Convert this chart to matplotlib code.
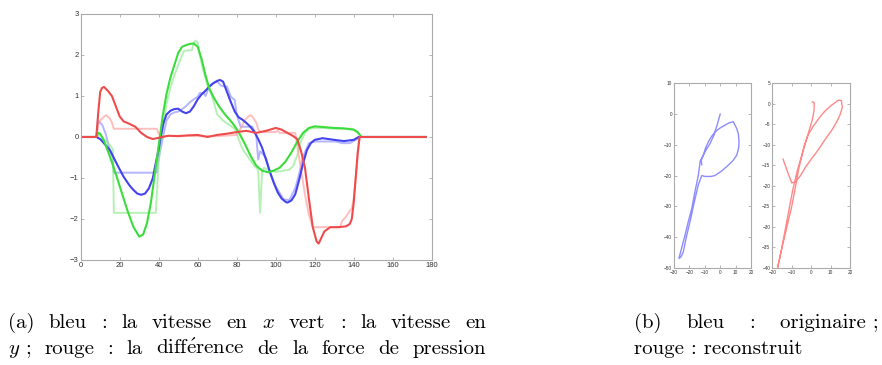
import matplotlib.pyplot as plt

# ---- main panel: speeds (thick) and their reconstructions (light)
vx_t = [0, 8, 10, 15, 19, 22, 25, 27, 29, 31, 33, 35, 37, 38, 40, 41, 42.5, 44, 46, 48, 50, 52, 54, 56, 58, 60,
        62, 64, 66, 68, 70, 71.5, 73, 75, 77, 79, 81, 83, 85, 87, 89, 91, 93, 95, 97, 99, 101, 103, 105,
        106, 108, 110, 112, 114, 116, 118, 120, 124, 130, 135, 140, 142.5, 177]
vx = [0, 0, -0.05, -0.32, -0.7, -0.97, -1.18, -1.29, -1.38, -1.41, -1.38, -1.25, -1.0, -0.75, -0.3, 0.0,
      0.35, 0.55, 0.64, 0.68, 0.69, 0.62, 0.58, 0.62, 0.75, 0.92, 1.04, 1.13, 1.23, 1.31, 1.37, 1.39, 1.35,
      1.1, 0.85, 0.62, 0.48, 0.42, 0.34, 0.25, 0.13, -0.05, -0.26, -0.55, -0.85, -1.12, -1.35, -1.5, -1.58,
      -1.6, -1.55, -1.4, -1.05, -0.65, -0.32, -0.15, -0.07, -0.03, -0.07, -0.1, -0.07, 0.0, 0.0]

vx_r_t = [0, 8, 9, 11, 13, 15, 16.5, 17, 39, 40, 42, 44, 46, 48, 50, 52, 54, 56, 58, 60, 61, 63, 64, 66, 68,
          70, 72, 74, 75, 77, 79, 80, 82, 84, 88, 90, 91, 92, 93, 95, 97, 100, 104, 107, 110, 112, 114, 117,
          120, 125, 131, 134, 138, 141, 143.5, 177]
vx_r = [0, 0, 0.4, 0.3, 0.05, -0.35, -0.5, -0.87, -0.87, -0.5, -0.05, 0.4, 0.55, 0.6, 0.62, 0.68, 0.75,
        0.85, 0.92, 0.98, 1.07, 1.07, 1.0, 1.25, 1.32, 1.35, 1.25, 1.23, 1.23, 0.98, 0.9, 0.55, 0.25, 0.25,
        0.25, 0.05, -0.55, -0.35, -0.4, -0.5, -0.85, -1.2, -1.52, -1.54, -1.25, -0.9, -0.48, -0.15, -0.11,
        -0.11, -0.11, -0.15, -0.15, -0.07, 0.0, 0.0]

vy_t = [0, 8, 9, 10, 12, 15, 18, 21, 24, 27, 30, 32, 34, 36, 38, 40, 42, 44, 46, 48, 50, 52, 54, 56, 58, 60,
        62, 64, 66, 68, 71, 74, 78, 81, 84, 87, 90, 93, 96, 99, 102, 105, 108, 111, 114, 117, 120, 125,
        130, 135, 140, 142, 144, 177]
vy = [0, 0, 0.1, 0.08, -0.1, -0.48, -0.9, -1.35, -1.8, -2.19, -2.43, -2.38, -2.1, -1.6, -0.9, -0.2, 0.5,
      1.05, 1.45, 1.75, 2.05, 2.2, 2.24, 2.27, 2.28, 2.2, 1.9, 1.5, 1.18, 0.98, 0.74, 0.55, 0.33, 0.12,
      -0.15, -0.45, -0.7, -0.82, -0.86, -0.82, -0.75, -0.6, -0.38, -0.12, 0.1, 0.22, 0.26, 0.24, 0.22,
      0.21, 0.18, 0.12, 0.0, 0.0]

vy_r_t = [0, 8, 10, 12, 15, 16.5, 17, 38.5, 40, 42, 44, 46, 48, 50, 52, 53, 57, 58, 59, 60, 61, 63, 65,
          67, 70, 73, 76, 79, 81, 83, 86, 89, 91, 92, 93, 94, 96, 100, 104, 107, 109, 111, 113, 115, 117,
          120, 125, 130, 135, 140, 142, 144, 177]
vy_r = [0, 0, 0.05, -0.05, -0.2, -0.3, -1.85, -1.85, -0.6, 0.2, 0.8, 1.2, 1.5, 1.75, 2.0, 2.1, 2.12, 2.3,
        2.35, 2.3, 2.0, 1.6, 1.25, 1.05, 0.55, 0.4, 0.3, 0.2, -0.05, -0.3, -0.5, -0.7, -0.8, -1.85, -0.85,
        -0.75, -0.8, -0.85, -0.82, -0.8, -0.7, -0.45, -0.1, 0.1, 0.2, 0.22, 0.22, 0.2, 0.2, 0.18, 0.1,
        0.0, 0.0]

dp_t = [0, 8, 9, 10, 11, 12, 14, 16, 18, 20, 22, 25, 28, 31, 34, 37, 40, 45, 50, 55, 60, 65, 70, 75, 80,
        85, 90, 95, 100, 103, 106, 109, 111, 113, 115, 117, 119, 121, 122, 123, 125, 128, 132, 136, 138,
        139, 140, 141, 142, 143, 177]
dp = [0, 0, 0.6, 1.1, 1.2, 1.22, 1.12, 1.0, 0.75, 0.5, 0.38, 0.32, 0.25, 0.1, 0.0, -0.05, -0.02, 0.03,
      0.02, 0.04, 0.05, 0.0, 0.05, 0.08, 0.12, 0.15, 0.1, 0.15, 0.22, 0.18, 0.1, 0.02, -0.05, -0.35, -0.75,
      -1.5, -2.2, -2.55, -2.6, -2.5, -2.3, -2.2, -2.2, -2.18, -2.12, -2.0, -1.6, -1.0, -0.4, 0.0, 0.0]

dp_r_t = [0, 8, 9, 10, 12, 13, 15, 16, 17, 39, 40, 41, 50, 60, 70, 80, 82, 84, 86, 87, 88, 90, 91, 92,
          100, 101, 102, 110, 111, 113, 115, 117, 119, 133, 134, 136, 138, 139, 140, 141, 142, 143, 177]
dp_r = [0, 0, 0.3, 0.4, 0.5, 0.53, 0.45, 0.35, 0.2, 0.2, 0.08, 0.02, 0.03, 0.02, 0.02, 0.05, 0.2, 0.4,
        0.5, 0.53, 0.5, 0.35, 0.2, 0.12, 0.12, 0.15, 0.1, 0.1, -0.2, -0.8, -1.4, -1.9, -2.2, -2.2, -2.05,
        -1.95, -1.8, -1.75, -1.5, -1.0, -0.5, 0.0, 0.0]

# ---- trajectory panels
orig_x = [0, -2, -4, -6.6, -9, -11, -13, -14.2, -16.5, -18.5, -21, -22.9, -25, -26.8, -25.5, -24, -22,
          -19.6, -17, -14.2, -12, -10, -6, -3.4, 1, 5.3, 8.5, 10.7, 12, 12.2, 11.8, 10.7, 8.5, 6, 3.1, 0,
          -3.4, -5.5, -7.7, -9.5, -11, -12.3, -12]
orig_y = [0, -3.5, -6.8, -9.6, -11.5, -13.4, -15.3, -19.9, -25.5, -30.8, -35.5, -39.5, -43.5, -47, -46.5,
          -44.9, -40, -35, -29, -23, -20, -20.3, -20.3, -20, -18.5, -16.6, -15, -13.4, -11, -9, -6.5, -4.7,
          -2.5, -2.8, -3.6, -4.5, -5.8, -7.2, -9, -11, -13.4, -15, -16.5]

rec_x = [-14.5, -13, -11.5, -10, -8, -5.5, -3, 0, 3.5, 7, 10.5, 13, 15, 16, 15.5, 14, 10, 7, 4, 1, -1.5,
         -3.5, -5, -6.5, -8, -10, -12.5, -15, -17.3, -15.5, -13.5, -11.5, -9.5, -7, -4.5, -2, 0.5, 1.5,
         1.5, 0.5]
rec_y = [-13.5, -15.5, -17.5, -19.3, -19, -17.5, -15.5, -13.5, -11.3, -8.8, -6.5, -4.5, -2.5, -0.8, 0.8,
         0.9, -0.5, -1.8, -3.5, -5.5, -7.5, -10, -13, -16, -20, -25, -30, -35, -40, -36, -31, -26, -21,
         -16, -12, -8, -4, -1.5, 0.3, 0.5]

cap_a1 = ["(a)", "bleu", ":", "la", "vitesse", "en", "$x$", "vert", ":", "la", "vitesse", "en"]
cap_a2 = ["$y$ ;", "rouge", ":", "la", r"$\mathrm{diff\acute{e}rence}$", "de", "la", "force", "de",
          "pression"]
cap_b1 = ["(b)", "bleu", ":", "originaire ;"]
cap_b2 = "rouge : reconstruit"

W, H = 882, 365
CAP_SIZE = 15


def style(ax, size):
    ax.tick_params(direction='in', top=True, right=True, length=2, width=0.5,
                   color='#999999', labelsize=size, labelcolor='#333333', pad=1.5)
    for lab in ax.get_xticklabels() + ax.get_yticklabels():
        lab.set_family('Liberation Sans')
    for s in ax.spines.values():
        s.set_color('#aaaaaa')
        s.set_linewidth(0.8)


def justified(fig, words, x0, x1, y, size):
    renderer = fig.canvas.get_renderer()
    texts = [fig.text(0, 1 - y / H, w, family='cmr10', fontsize=size, va='baseline') for w in words]
    widths = [t.get_window_extent(renderer).width for t in texts]
    gap = (x1 - x0 - sum(widths)) / (len(words) - 1)
    x = x0
    for t, w in zip(texts, widths):
        t.set_x(x / W)
        x += w + gap


plt.rcParams['mathtext.fontset'] = 'cm'
plt.rcParams['axes.formatter.use_mathtext'] = False
fig = plt.figure(figsize=(W / 100, H / 100), dpi=100)

ax = fig.add_axes([0.0915, 0.2877, 0.3980, 0.6740])
ax.plot(vx_r_t, vx_r, color='#8c8cff', lw=1.4, alpha=0.65)
ax.plot(vy_r_t, vy_r, color='#8ee88e', lw=1.4, alpha=0.65)
ax.plot(dp_r_t, dp_r, color='#ff9c9c', lw=1.4, alpha=0.65)
ax.plot(vx_t, vx, color='#4444ee', lw=1.5)
ax.plot(vy_t, vy, color='#3cdc3c', lw=1.5)
ax.plot(dp_t, dp, color='#ee4c4c', lw=1.5)
ax.set_xlim(0, 180)
ax.set_ylim(-3, 3)
ax.set_xticks(range(0, 181, 20))
ax.set_yticks(range(-3, 4))
style(ax, 5.5)

ax_o = fig.add_axes([0.7642, 0.2666, 0.0873, 0.5050])
ax_o.plot(orig_x, orig_y, color='#7070ff', lw=1.0, alpha=0.8)
ax_o.set_xlim(-30, 20)
ax_o.set_ylim(-50, 10)
ax_o.set_xticks(range(-30, 21, 10))
ax_o.set_yticks(range(-50, 11, 10))
style(ax_o, 3.4)

ax_r = fig.add_axes([0.8757, 0.2666, 0.0881, 0.5050])
ax_r.plot(rec_x, rec_y, color='#ff6b6b', lw=1.0, alpha=0.8)
ax_r.set_xlim(-20, 20)
ax_r.set_ylim(-40, 5)
ax_r.set_xticks(range(-20, 21, 10))
ax_r.set_yticks(range(-40, 6, 5))
style(ax_r, 3.4)

justified(fig, cap_a1, 8, 486, 328, CAP_SIZE)
justified(fig, cap_a2, 8, 486, 354, CAP_SIZE)
justified(fig, cap_b1, 634, 879, 328, CAP_SIZE)
fig.text(634 / W, 1 - 354 / H, cap_b2, family='cmr10', fontsize=CAP_SIZE, va='baseline')

fig.savefig('out.png', dpi=100)
